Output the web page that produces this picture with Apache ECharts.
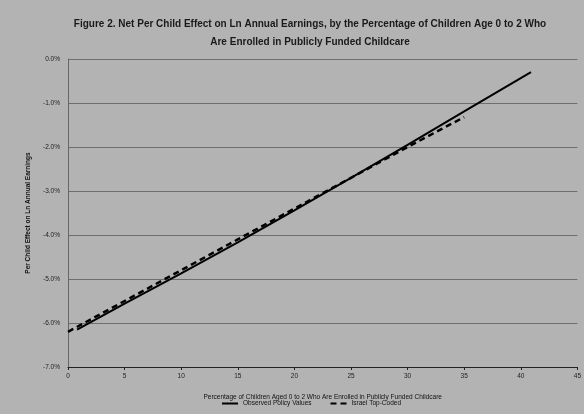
<!DOCTYPE html>
<html><head><meta charset="utf-8">
<script src="https://cdn.jsdelivr.net/npm/echarts@6/dist/echarts.min.js"></script>
<style>html,body{margin:0;padding:0;background:#b3b3b3;}#c{width:584px;height:414px;}</style>
</head><body><div id="c"></div>
<script>
const titleText = "Figure 2. Net Per Child Effect on Ln Annual Earnings, by the Percentage of Children Age 0 to 2 Who\nAre Enrolled in Publicly Funded Childcare";
const xAxisTitle = "Percentage of Children Aged 0 to 2 Who Are Enrolled in Publicly Funded Childcare";
const yAxisTitle = "Per Child Effect on Ln Annual Earnings";
const seriesNames = ["Observed Policy Values", "Israel Top-Coded"];
const observedX = [0.8, 5, 10, 15, 20, 25, 30, 35, 40.9];
const observedY = [-6.15, -5.56, -4.87, -4.17, -3.44, -2.70, -1.95, -1.19, -0.30];
const topCodedX = [0, 5, 10, 15, 20, 25, 30, 35];
const topCodedY = [-6.20, -5.50, -4.80, -4.10, -3.40, -2.70, -2.00, -1.32];
const xTicks = [0, 5, 10, 15, 20, 25, 30, 35, 40, 45];
const yTicks = [0, -1, -2, -3, -4, -5, -6, -7];

const font = "'Liberation Sans','Arial',sans-serif";
const chart = echarts.init(document.getElementById('c'), null, {renderer:'canvas'});
chart.setOption({
  backgroundColor: '#b3b3b3',
  animation: false,
  title: {
    text: titleText, left: 305, textAlign: 'center', top: 10,
    textStyle: {fontFamily: font, fontWeight: 'bold', fontSize: 10, color: '#1a1a1a', lineHeight: 18}
  },
  grid: {left: 68, right: 6, top: 59, bottom: 47},
  legend: {
    bottom: 2, left: 216, itemWidth: 16, itemHeight: 4, itemGap: 18,
    itemStyle: {opacity: 0},
    textStyle: {fontFamily: font, fontSize: 6.5, color: '#111'},
    data: seriesNames
  },
  xAxis: {
    type: 'value', min: xTicks[0], max: xTicks[xTicks.length-1], interval: 5,
    name: xAxisTitle, nameLocation: 'middle', nameGap: 27,
    nameTextStyle: {fontFamily: font, fontSize: 6.5, color: '#111'},
    axisLine: {onZero: false, lineStyle: {color: '#222', width: 1}},
    axisTick: {show: true, length: 3, lineStyle: {color: '#222'}},
    axisLabel: {fontFamily: font, fontSize: 6.5, color: '#222', margin: 6},
    splitLine: {show: false}
  },
  yAxis: {
    type: 'value', min: yTicks[yTicks.length-1], max: yTicks[0], interval: 1,
    name: yAxisTitle, nameLocation: 'middle', nameGap: 30, nameRotate: 90,
    nameTextStyle: {fontFamily: font, fontSize: 6.5, fontWeight: 'bold', color: '#111'},
    axisLine: {show: true, onZero: false, lineStyle: {color: '#666'}},
    axisTick: {show: false},
    axisLabel: {fontFamily: font, fontSize: 6.5, color: '#222', margin: 8,
      formatter: v => v.toFixed(1) + '%'},
    splitLine: {lineStyle: {color: '#6e6e6e', width: 1}}
  },
  series: [
    {name: seriesNames[0], type: 'line', symbol: 'none', smooth: false,
     data: observedX.map((x,i)=>[x, observedY[i]]),
     lineStyle: {color: '#000', width: 2}, itemStyle: {color: '#000'}},
    {name: seriesNames[1], type: 'line', symbol: 'none',
     data: topCodedX.map((x,i)=>[x, topCodedY[i]]),
     lineStyle: {color: '#000', width: 2.5, type: [6,4]}, itemStyle: {color: '#000'}}
  ]
});
</script></body></html>
